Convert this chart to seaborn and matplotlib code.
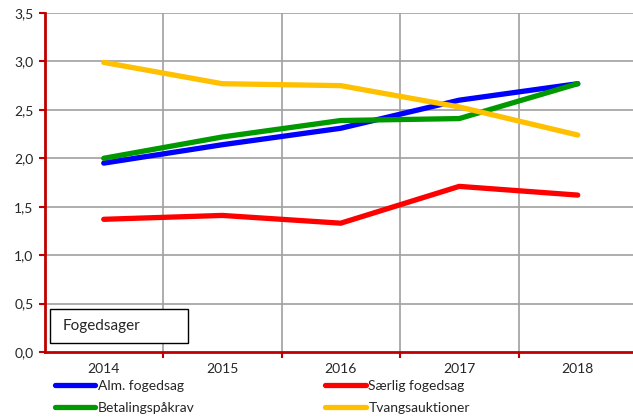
import matplotlib
matplotlib.use("Agg")
import matplotlib.pyplot as plt
import seaborn as sns
import pandas as pd
from matplotlib.patches import Rectangle
from matplotlib.ticker import FuncFormatter, FixedLocator

years = ["2014", "2015", "2016", "2017", "2018"]
alm_fogedsag = [1.95, 2.14, 2.31, 2.60, 2.77]
saerlig_fogedsag = [1.37, 1.41, 1.33, 1.71, 1.62]
betalingspaakrav = [2.00, 2.22, 2.39, 2.41, 2.77]
tvangsauktioner = [2.99, 2.77, 2.75, 2.53, 2.24]

series_names = ["Alm. fogedsag", "Særlig fogedsag", "Betalingspåkrav", "Tvangsauktioner"]
series_values = [alm_fogedsag, saerlig_fogedsag, betalingspaakrav, tvangsauktioner]
colors = ["#0000FF", "#FF0000", "#009900", "#FFC000"]

rows = []
for name, vals in zip(series_names, series_values):
    for i, (y, v) in enumerate(zip(years, vals)):
        rows.append({"idx": i, "year": y, "serie": name, "value": v})
df = pd.DataFrame(rows)

sns.set_style("white")
plt.rcParams["font.family"] = ["Lato", "DejaVu Sans"]

fig = plt.figure(figsize=(6.33, 4.18), dpi=100)
W, H = 633, 418
ax = fig.add_axes([44.5 / W, (H - 352) / H, (637 - 44.5) / W, (352 - 13) / H])

sns.lineplot(data=df, x="idx", y="value", hue="serie", hue_order=series_names,
             palette=colors, linewidth=3.8, ax=ax, legend=False,
             solid_capstyle="round")

ax.set_xlim(-0.5, 4.5)
ax.set_ylim(0, 3.5)
ax.set_yticks([0, 0.5, 1.0, 1.5, 2.0, 2.5, 3.0, 3.5])
ax.yaxis.set_major_formatter(FuncFormatter(lambda v, p: f"{v:.1f}".replace(".", ",")))
ax.set_xticks(range(len(years)))
ax.set_xticklabels(years)
ax.xaxis.set_minor_locator(FixedLocator([0.5, 1.5, 2.5, 3.5]))
ax.set_xlabel("")
ax.set_ylabel("")

ax.grid(False)
for yv in [0.5, 1.0, 1.5, 2.0, 2.5, 3.0, 3.5]:
    ax.axhline(yv, color="#A0A0A0", lw=1.2, zorder=0)
for xv in [0.5, 1.5, 2.5, 3.5]:
    ax.axvline(xv, color="#A0A0A0", lw=1.2, zorder=0)

for s in ["top", "right"]:
    ax.spines[s].set_visible(False)
for s in ["left", "bottom"]:
    ax.spines[s].set_color("#C00000")
    ax.spines[s].set_linewidth(2)
    ax.spines[s].set_zorder(5)

ax.tick_params(axis="y", which="major", direction="out", length=4, width=1.5,
               color="#C00000", labelsize=10, pad=4, left=True)
ax.tick_params(axis="x", which="major", length=0, labelsize=10, pad=8, bottom=True)
ax.tick_params(axis="x", which="minor", direction="out", length=4, width=1.5,
               color="#C00000", bottom=True)

ax.add_patch(Rectangle((5.5 / 592.5, 9 / 339), 138 / 592.5, 34 / 339,
                       transform=ax.transAxes, facecolor="white",
                       edgecolor="black", lw=1, zorder=6))
ax.text(18.5 / 592.5, 26 / 339, "Fogedsager", transform=ax.transAxes,
        fontsize=11, va="center", ha="left", zorder=7)

lines = ax.get_lines()[:4]
handles = [lines[0], lines[2], lines[1], lines[3]]
labels = [series_names[0], series_names[2], series_names[1], series_names[3]]
fig.legend(handles, labels, ncol=2, loc="upper left",
           bbox_to_anchor=(55 / W, 1 - 380 / H), frameon=False,
           fontsize=10, handlelength=2.9, handletextpad=0.2,
           columnspacing=9.4, labelspacing=0.7, borderaxespad=0, borderpad=0)

fig.savefig("out.png", dpi=100)
